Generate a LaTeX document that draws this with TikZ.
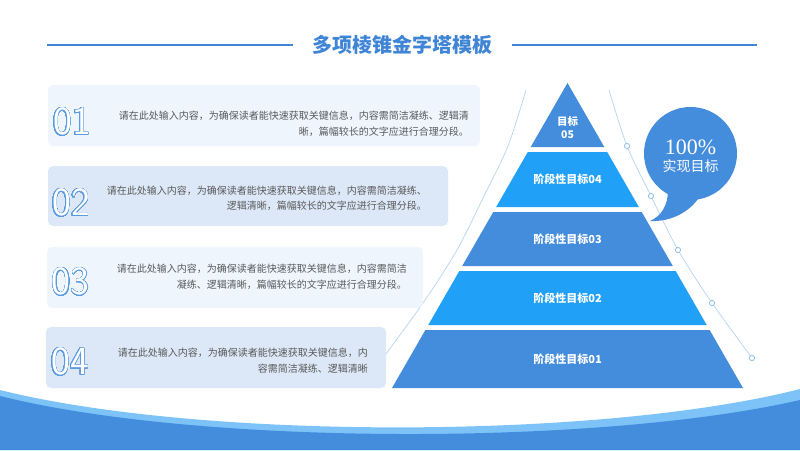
\documentclass[tikz,border=0pt]{standalone}
\usepackage{fontspec}
\setmainfont{Noto Sans CJK SC}
\newfontfamily\numfont{Liberation Serif}
\usepackage{contour}
\usepackage{xcolor}
\usetikzlibrary{positioning, calc}

\definecolor{pyrdark}{HTML}{448DDD}
\definecolor{pyrlight}{HTML}{20A0F6}
\definecolor{bandlight}{HTML}{7DC3F7}
\definecolor{titleblue}{HTML}{3F84D5}
\definecolor{cardpale}{HTML}{EEF5FD}
\definecolor{cardsoft}{HTML}{DCE8F7}
\definecolor{bodygray}{HTML}{595959}
\definecolor{guideblue}{HTML}{B5D4F0}
\definecolor{dotblue}{HTML}{8DBFEA}
\definecolor{numblue}{HTML}{5A9AE0}

\contourlength{0.5pt}
\contournumber{48}

\begin{document}
\begin{tikzpicture}[x=1pt, y=-1pt,
  card/.style={rectangle, rounded corners=5pt, inner sep=0pt},
  num/.style={font=\fontsize{40}{40}\sffamily, inner sep=0pt},
  body/.style={font=\fontsize{10}{15.5}\selectfont, text=bodygray,
               align=right, inner sep=0pt, anchor=east},
  pyrtext/.style={font=\fontsize{11}{13}\selectfont\bfseries, text=white,
                  align=center, inner sep=0pt},
  rule/.style={titleblue, line width=1.2pt},
  guide/.style={guideblue, line width=0.7pt},
  dot/.style={dotblue, fill=white, line width=0.8pt}
]
\useasboundingbox (0,0) rectangle (800,450);
\def\cx{567.5}
\def\ty{83}
\def\k{0.5754}

% title
\node[font=\fontsize{20}{20}\selectfont\bfseries, text=titleblue] (title) at (402.5,45) {多项棱锥金字塔模板};
\coordinate (ruleL) at (47,45);
\coordinate (ruleR) at (757,45);
\draw[rule] (ruleL) -- ([xshift=-16pt]title.west);
\draw[rule] ([xshift=16pt]title.east) -- (ruleR);

% guide curves
\draw[guide] plot[smooth] coordinates {(526,90) (508,146) (484,196) (457,250) (423,303) (383,358) (375,368)};
\draw[guide] plot[smooth] coordinates {(609,90) (627,146) (651,196) (678,250) (712,303) (752,358)};
\foreach \px/\py in {627/146, 651/196, 678/250, 712/303, 752/358}
  \filldraw[dot] (\px,\py) circle (2.6);

% cards
\node[card, fill=cardpale, minimum width=432pt, minimum height=61pt] (c1) at (264,115.5) {};
\node[card, fill=cardsoft, minimum width=400pt, minimum height=60pt] (c2) at (248,196) {};
\node[card, fill=cardpale, minimum width=376pt, minimum height=61pt] (c3) at (235,277.5) {};
\node[card, fill=cardsoft, minimum width=340pt, minimum height=61pt] (c4) at (216,357.5) {};

\node[num] (n1) at (72,122) {\contour{numblue}{\color{white}01}};
\node[num] (n2) at (71,203) {\contour{numblue}{\color{white}02}};
\node[num] (n3) at (70.5,282) {\contour{numblue}{\color{white}03}};
\node[num] (n4) at (70,362) {\contour{numblue}{\color{white}04}};

\node[body] (t1) at (469,124) {请在此处输入内容，为确保读者能快速获取关键信息，内容需简洁凝练、逻辑清\\晰，篇幅较长的文字应进行合理分段。};
\node[body] (t2) at (427,198.5) {请在此处输入内容，为确保读者能快速获取关键信息，内容需简洁凝练、\\逻辑清晰，篇幅较长的文字应进行合理分段。};
\node[body] (t3) at (407,277) {请在此处输入内容，为确保读者能快速获取关键信息，内容需简洁\\凝练、逻辑清晰，篇幅较长的文字应进行合理分段。};
\node[body] (t4) at (368,360.5) {请在此处输入内容，为确保读者能快速获取关键信息，内\\容需简洁凝练、逻辑清晰};

% pyramid
\fill[pyrdark] (\cx,\ty) -- (\cx+36.8,147) -- (\cx-36.8,147) -- cycle;
\node[pyrtext, font=\fontsize{10.5}{13}\selectfont\bfseries] (g5) at (\cx,128) {目标\\05};
\foreach \ya/\yb/\col/\name/\lbl in {152/207/pyrlight/g4/阶段性目标04,
    212/266/pyrdark/g3/阶段性目标03, 271/325/pyrlight/g2/阶段性目标02,
    330/388/pyrdark/g1/阶段性目标01} {
  \pgfmathsetmacro\wa{\k*(\ya-\ty)}
  \pgfmathsetmacro\wb{\k*(\yb-\ty)}
  \fill[\col] (\cx-\wa,\ya) -- (\cx+\wa,\ya) -- (\cx+\wb,\yb) -- (\cx-\wb,\yb) -- cycle;
  \node[pyrtext] (\name) at (\cx,{(\ya+\yb)/2}) {\lbl};
}

% bubble
\fill[pyrdark] (690.5,153.5) circle (46.5);
\fill[pyrdark] (668,190) .. controls (668,206) and (661,216) .. (650,221)
  .. controls (671,222) and (690,212) .. (700,196) -- cycle;
\node[font=\fontsize{22}{22}\numfont, text=white, inner sep=0pt] (pct) at (690.5,147) {100\%};
\node[font=\fontsize{14}{14}\selectfont, text=white, inner sep=0pt, below=5pt of pct] (goal) {实现目标};

% bottom wave
\fill[bandlight] (0,390) .. controls (200,440) and (600,440) .. (800,389) -- (800,450) -- (0,450) -- cycle;
\fill[pyrdark] (0,396) .. controls (200,446) and (600,446) .. (800,400) -- (800,450) -- (0,450) -- cycle;
\end{tikzpicture}
\end{document}
